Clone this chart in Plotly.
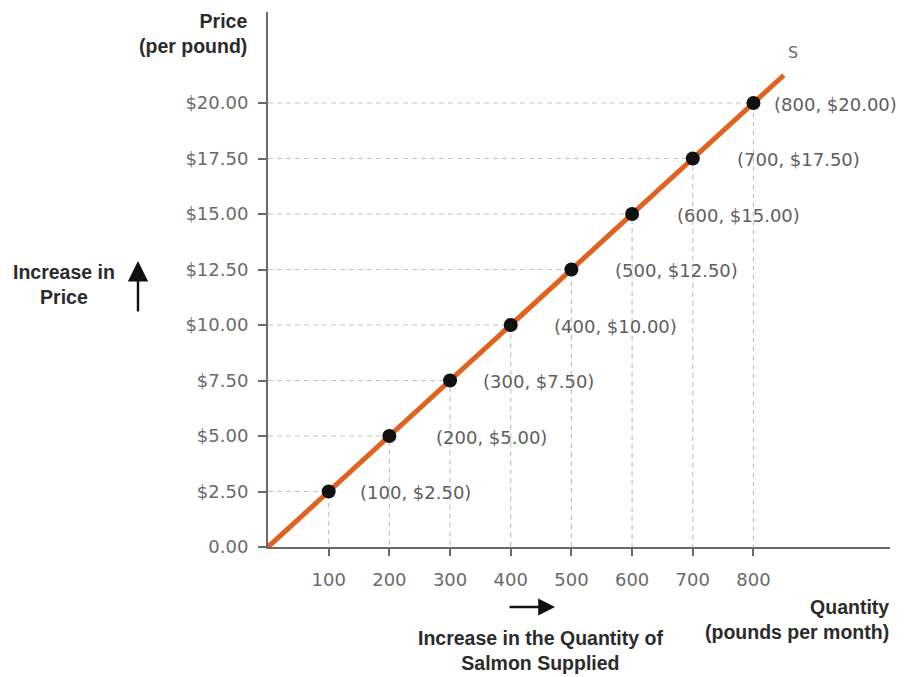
import plotly.graph_objects as go

# Supply schedule for salmon
quantity = [100, 200, 300, 400, 500, 600, 700, 800]
price = [2.50, 5.00, 7.50, 10.00, 12.50, 15.00, 17.50, 20.00]
point_labels = ["(100, $2.50)", "(200, $5.00)", "(300, $7.50)", "(400, $10.00)",
                "(500, $12.50)", "(600, $15.00)", "(700, $17.50)", "(800, $20.00)"]

# Supply curve end points
curve_q = [0, 850]
curve_p = [0, 21.25]

x_ticks = [100, 200, 300, 400, 500, 600, 700, 800]
y_ticks = [0, 2.5, 5, 7.5, 10, 12.5, 15, 17.5, 20]
y_tick_text = ["0.00", "$2.50", "$5.00", "$7.50", "$10.00", "$12.50", "$15.00", "$17.50", "$20.00"]

# Horizontal gap (px) between each point and its label
label_gap = [29, 45, 31, 41, 42, 43, 42, 19]

W, H = 909, 677
ML, MR, MT, MB = 268, 19, 12, 130
PW, PH = W - ML - MR, H - MT - MB


def px(x):
    return (x - ML) / PW


def py(y):
    return (H - MB - y) / PH


FONT = "DejaVu Sans"
BOLD = "Liberation Sans"
GRAY = "#6a6a6a"
DARK = "#2b2b2b"

# Dashed guide lines from each point to the axes
gx, gy = [], []
for q, p in zip(quantity, price):
    gx += [0, q, q, None]
    gy += [p, p, 0, None]

fig = go.Figure()
fig.add_trace(go.Scatter(x=gx, y=gy, mode="lines",
                         line=dict(color="#c4c4c4", width=1.2, dash="5px,4px"),
                         hoverinfo="skip", showlegend=False))
fig.add_trace(go.Scatter(x=curve_q, y=curve_p, mode="lines",
                         line=dict(color="#e0621f", width=5),
                         showlegend=False))
fig.add_trace(go.Scatter(x=quantity, y=price, mode="markers",
                         marker=dict(color="#111111", size=14),
                         showlegend=False))

annotations = []
for q, p, t, g in zip(quantity, price, point_labels, label_gap):
    annotations.append(dict(x=q, y=p, xref="x", yref="y", text=t, showarrow=False,
                            xanchor="left", yanchor="middle", xshift=g, yshift=-1,
                            font=dict(family=FONT, size=18, color="#5e5e5e")))

annotations += [
    dict(x=px(793), y=py(52), xref="paper", yref="paper", text="S", showarrow=False,
         xanchor="center", yanchor="middle",
         font=dict(family=FONT, size=16, color=GRAY)),
    dict(x=px(249), y=py(33), xref="paper", yref="paper", text="<b>Price<br>(per pound)</b>",
         showarrow=False, xanchor="right", yanchor="middle", align="right",
         font=dict(family=BOLD, size=19.5, color=DARK)),
    dict(x=px(64), y=py(284), xref="paper", yref="paper", text="<b>Increase in<br>Price</b>",
         showarrow=False, xanchor="center", yanchor="middle", align="center",
         font=dict(family=BOLD, size=19.5, color=DARK)),
    dict(x=px(138), y=py(261), xref="paper", yref="paper", ax=0, ay=52, text="",
         showarrow=True, arrowhead=2, arrowsize=1.7, arrowwidth=2.4, arrowcolor="#111111"),
    dict(x=px(891), y=py(619), xref="paper", yref="paper",
         text="<b>Quantity<br>(pounds per month)</b>",
         showarrow=False, xanchor="right", yanchor="middle", align="right",
         font=dict(family=BOLD, size=19.5, color=DARK)),
    dict(x=px(555), y=py(607), xref="paper", yref="paper", ax=-47, ay=0, text="",
         showarrow=True, arrowhead=2, arrowsize=1.4, arrowwidth=2.4, arrowcolor="#111111"),
    dict(x=px(540), y=py(650), xref="paper", yref="paper",
         text="<b>Increase in the Quantity of<br>Salmon Supplied</b>",
         showarrow=False, xanchor="center", yanchor="middle", align="center",
         font=dict(family=BOLD, size=19.5, color=DARK)),
]

fig.update_layout(
    width=W, height=H,
    margin=dict(l=ML, r=MR, t=MT, b=MB),
    paper_bgcolor="white", plot_bgcolor="white",
    annotations=annotations,
    xaxis=dict(range=[0, 1025], tickvals=x_ticks, showgrid=False, zeroline=False,
               showline=True, linecolor=GRAY, linewidth=2,
               ticks="outside", ticklen=7, tickcolor=GRAY, tickwidth=1.5,
               ticklabelstandoff=8,
               tickfont=dict(family=FONT, size=18, color=GRAY)),
    yaxis=dict(range=[0, 24.1], tickvals=y_ticks, ticktext=y_tick_text, showgrid=False,
               zeroline=False, showline=True, linecolor=GRAY, linewidth=2,
               ticks="outside", ticklen=8, tickcolor=GRAY, tickwidth=1.5,
               ticklabelstandoff=6,
               tickfont=dict(family=FONT, size=18, color=GRAY)),
)

fig.write_html("out.html")
